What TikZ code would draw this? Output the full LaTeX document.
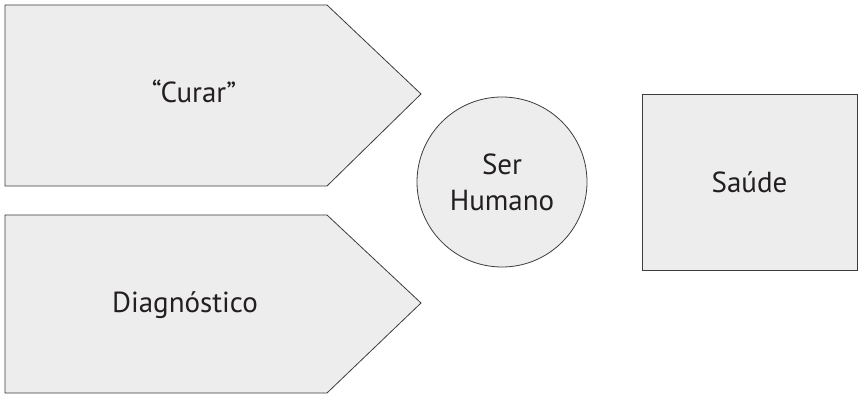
\documentclass[tikz,border=0pt]{standalone}
\usepackage{fontspec}
\setmainfont{PT Sans}
\usepackage{tikz}
\usetikzlibrary{positioning}
\usepackage{xcolor}
\definecolor{panelgrey}{RGB}{237,237,237}
\definecolor{edgegrey}{RGB}{60,60,60}
\definecolor{textgrey}{RGB}{35,31,32}
\tikzset{greyshape/.style={fill=panelgrey, draw=edgegrey, line width=0.8pt},
labeltext/.style={font=\fontsize{29}{36}\selectfont, text=textgrey, align=center}}

\begin{document}
\begin{tikzpicture}[
        line join=miter,
        circlenode/.style={greyshape, circle, minimum size=170pt, inner sep=0pt},
        boxnode/.style={greyshape, rectangle, minimum width=215pt, minimum height=176pt, inner sep=0pt}
    ]
        \useasboundingbox (0pt, 0pt) rectangle (858pt, 396pt);
        % Pointers
        \draw[greyshape] (5pt, 391pt) -- (327pt, 391pt) -- (421pt, 302pt) -- (327pt, 210pt) -- (5pt, 210pt) -- cycle;
        \draw[greyshape] (5pt, 181pt) -- (327pt, 181pt) -- (421pt, 93pt) -- (327pt, 3pt) -- (5pt, 3pt) -- cycle;
        \node[labeltext, anchor=base] (curar) at (194pt, 293pt) {“Curar”};
        \node[labeltext, anchor=base] (diagnostico) at (185pt, 84pt) {Diagnóstico};
        % Circle and box
        \node[circlenode, labeltext] (serhumano) at (502pt, 214pt) {Ser\\Humano};
        \node[boxnode, labeltext] (saude) at (749.5pt, 214pt) {Saúde};
    \end{tikzpicture}
\end{document}
